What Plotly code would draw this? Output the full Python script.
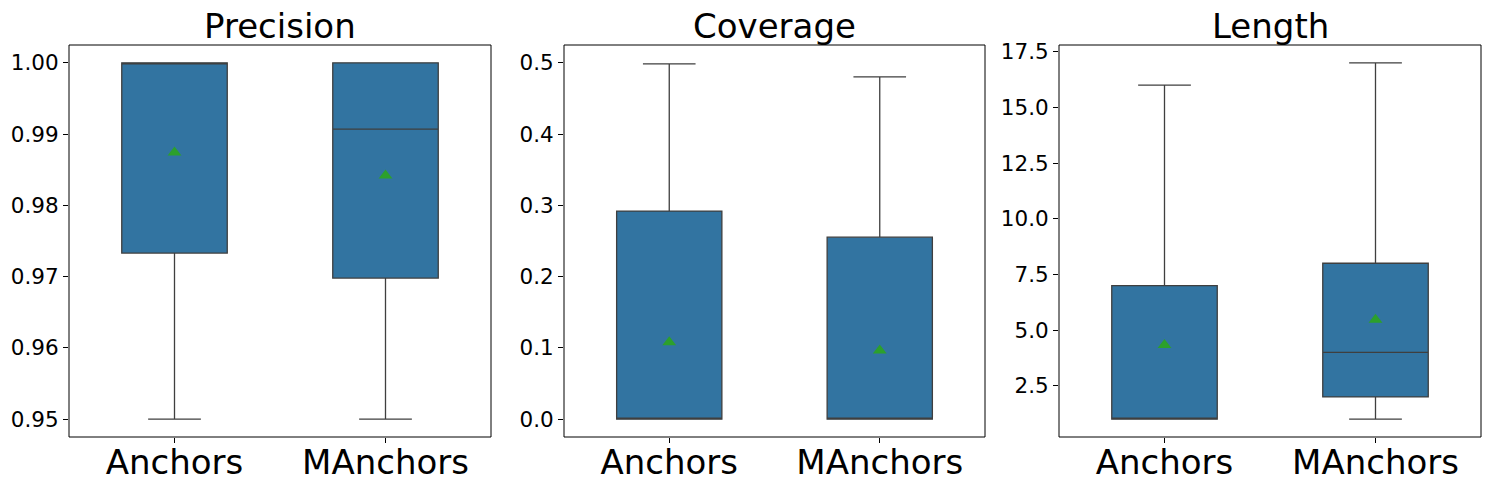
import plotly.graph_objects as go
from plotly.subplots import make_subplots

# ---- data ----
categories = ["Anchors", "MAnchors"]
panel_titles = ["Precision", "Coverage", "Length"]

precision_lower = [0.95, 0.95]
precision_q1 = [0.9733, 0.9698]
precision_median = [1.0, 0.9907]
precision_q3 = [1.0, 1.0]
precision_upper = [1.0, 1.0]
precision_mean = [0.9874, 0.9842]

coverage_lower = [0.0, 0.0]
coverage_q1 = [0.0, 0.0]
coverage_median = [0.0, 0.0]
coverage_q3 = [0.292, 0.2554]
coverage_upper = [0.4985, 0.4803]
coverage_mean = [0.1078, 0.0962]

length_lower = [1, 1]
length_q1 = [1, 2]
length_median = [1, 4]
length_q3 = [7, 8]
length_upper = [16, 17]
length_mean = [4.33, 5.46]

panels = [
    (precision_lower, precision_q1, precision_median, precision_q3, precision_upper, precision_mean),
    (coverage_lower, coverage_q1, coverage_median, coverage_q3, coverage_upper, coverage_mean),
    (length_lower, length_q1, length_median, length_q3, length_upper, length_mean),
]

BOX_FILL = "#3274a1"
LINE = "#3f3f3f"
MEAN_COLOR = "#2ca02c"
FONT = "DejaVu Sans"

fig = make_subplots(rows=1, cols=3, horizontal_spacing=0.05)

for i, (lo, q1, med, q3, up, mean) in enumerate(panels):
    col = i + 1
    fig.add_trace(go.Box(
        x=categories, lowerfence=lo, q1=q1, median=med, q3=q3, upperfence=up,
        fillcolor=BOX_FILL, line=dict(color=LINE, width=1.3),
        width=0.5, whiskerwidth=0.5, boxpoints=False, showlegend=False,
        hoverinfo="skip",
    ), row=1, col=col)
    fig.add_trace(go.Scatter(
        x=categories, y=mean, mode="markers",
        marker=dict(symbol="triangle-up", color=MEAN_COLOR, size=12, line=dict(width=0)),
        showlegend=False, hoverinfo="skip",
    ), row=1, col=col)

L, R = 69, 9
W = 1490.0 - L - R
domains = [(0.0, (491 - L) / W), ((564 - L) / W, (985 - L) / W), ((1059 - L) / W, 1.0)]
yranges = [[0.9475, 1.0025], [-0.025, 0.525], [0.2, 17.8]]
ydticks = [0.01, 0.1, 2.5]
yformats = [".2f", ".1f", ".1f"]

axis_common = dict(showline=False, ticks="outside", ticklen=5, tickcolor="black",
                   showgrid=False, zeroline=False, automargin=False)

for i in range(3):
    xa = "xaxis" if i == 0 else f"xaxis{i+1}"
    ya = "yaxis" if i == 0 else f"yaxis{i+1}"
    xr = "x" if i == 0 else f"x{i+1}"
    yr = "y" if i == 0 else f"y{i+1}"
    fig.layout[xa].update(domain=list(domains[i]), range=[-0.5, 1.5],
                          categoryorder="array", categoryarray=categories,
                          tickfont=dict(size=34, family=FONT, color="black"),
                          ticklabelstandoff=-10,
                          **axis_common)
    fig.layout[ya].update(range=yranges[i], dtick=ydticks[i], tick0=0,
                          tickformat=yformats[i],
                          tickfont=dict(size=21.5, family=FONT, color="black"),
                          **axis_common)
    fig.add_shape(type="rect", xref=f"{xr} domain", yref=f"{yr} domain",
                  x0=0, x1=1, y0=0, y1=1, line=dict(color="black", width=1),
                  fillcolor="rgba(0,0,0,0)", layer="above")
    fig.add_annotation(text=panel_titles[i], xref="paper", yref="paper",
                       x=(domains[i][0] + domains[i][1]) / 2, y=1,
                       xanchor="center", yanchor="bottom", yshift=-2, showarrow=False,
                       borderpad=0,
                       font=dict(size=34, family=FONT, color="black"))

fig.update_layout(
    width=1490, height=490,
    margin=dict(l=L, r=R, t=45, b=53),
    plot_bgcolor="white", paper_bgcolor="white",
    font=dict(family=FONT, color="black"),
)

fig.write_html("out.html", config={"displayModeBar": False},
               post_script="document.body.style.margin='0';document.body.style.overflow='hidden';")
